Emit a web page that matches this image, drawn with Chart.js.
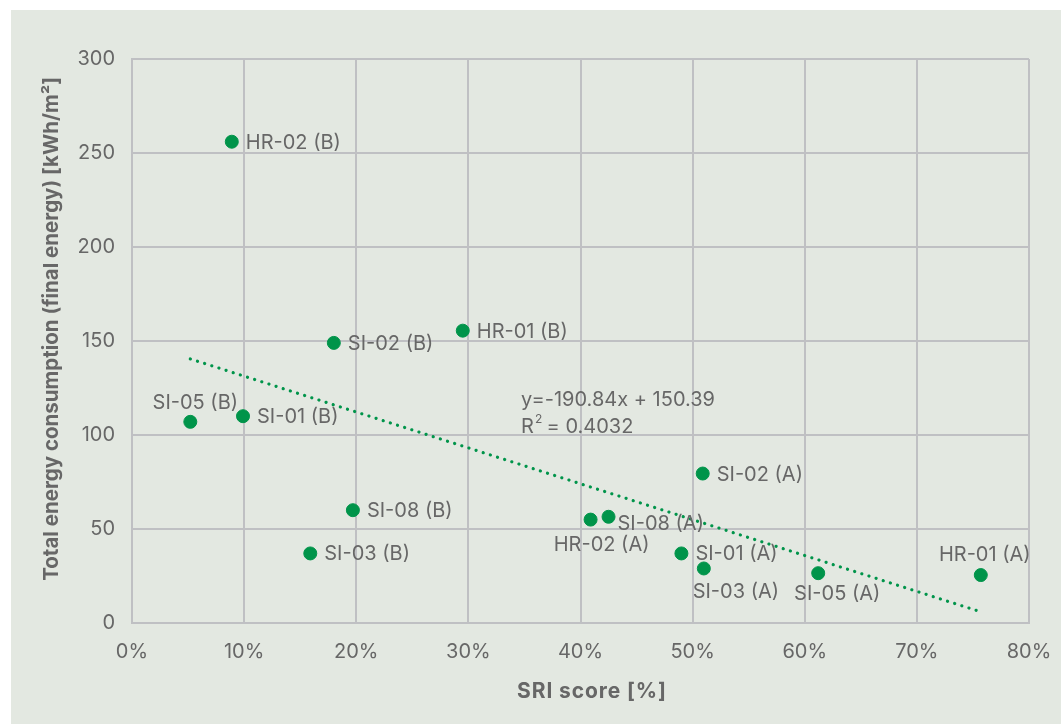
<!DOCTYPE html>
<html>
<head>
<meta charset="utf-8">
<script src="https://cdn.jsdelivr.net/npm/chart.js@4"></script>
<style>
  html, body { margin: 0; padding: 0; background: #ffffff; }
  #panel {
    position: absolute; left: 11px; top: 10px;
    width: 1050px; height: 714px;
    background: #e3e8e1;
  }
</style>
</head>
<body>
<div id="panel"><canvas id="sri-chart" width="1050" height="714"></canvas></div>
<script>
// data
var siteLabels = ["HR-02 (B)", "SI-02 (B)", "HR-01 (B)", "SI-05 (B)", "SI-01 (B)", "SI-08 (B)", "SI-03 (B)",
                  "SI-02 (A)", "HR-02 (A)", "SI-08 (A)", "SI-01 (A)", "SI-03 (A)", "SI-05 (A)", "HR-01 (A)"];
var sriScores = [8.9, 18.0, 29.5, 5.2, 9.9, 19.7, 15.9, 50.9, 40.9, 42.5, 49.0, 51.0, 61.2, 75.7];
var energyUse = [256, 149, 155.5, 107, 110, 60, 37, 79.5, 55, 56.5, 37, 29, 26.5, 25.5];
var xTicks = [0, 10, 20, 30, 40, 50, 60, 70, 80];
var yTicks = [0, 50, 100, 150, 200, 250, 300];
var xTitle = "SRI score [%]";
var yTitle = "Total energy consumption (final energy) [kWh/m²]";

// trendline as printed on the chart (x as a fraction)
var trendSlope = -190.84;
var trendIntercept = 150.39;
var trendR2 = 0.4032;

// where each point's label sits: [side, dx, dy]
var labelPlacement = {
  "SI-05 (B)": ["above", 5, -19],
  "HR-02 (A)": ["below", 11, 25],
  "SI-03 (A)": ["below", 32, 24],
  "SI-05 (A)": ["below", 19, 21],
  "HR-01 (A)": ["above", 4, -20],
  "SI-08 (A)": ["right", 9, 7]
};

var textGrey = "#676767";
var gridGrey = "#bfc0c3";
var dotGreen = "#00944a";
var fontFamily = "Inter, 'Noto Sans', sans-serif";

var points = sriScores.map(function (x, i) { return { x: x, y: energyUse[i] }; });
var xMin = Math.min.apply(null, sriScores);
var xMax = Math.max.apply(null, sriScores);
var trendPoints = [xMin, xMax].map(function (x) {
  return { x: x, y: trendSlope * x / 100 + trendIntercept };
});

var chartTexts = {
  id: "chartTexts",
  afterDatasetsDraw: function (chart) {
    var ctx = chart.ctx;
    var meta = chart.getDatasetMeta(1);
    var xs = chart.scales.x, ys = chart.scales.y;
    ctx.save();
    ctx.font = "20px " + fontFamily;
    ctx.fillStyle = textGrey;
    ctx.textBaseline = "middle";
    meta.data.forEach(function (el, i) {
      var name = siteLabels[i];
      var p = labelPlacement[name] || ["right", 14, 1];
      ctx.textAlign = p[0] === "right" ? "left" : "center";
      ctx.fillText(name, el.x + p[1], el.y + p[2]);
    });

    // trendline equation
    var ex = xs.getPixelForValue(34.7);
    ctx.textAlign = "left";
    ctx.fillText("y=" + trendSlope + "x + " + trendIntercept, ex, ys.getPixelForValue(118.6));
    var ry = ys.getPixelForValue(104.5);
    ctx.fillText("R", ex, ry);
    var rw = ctx.measureText("R").width;
    ctx.font = "12px " + fontFamily;
    ctx.fillText("2", ex + rw + 1, ry - 7);
    ctx.font = "20px " + fontFamily;
    ctx.fillText(" = " + trendR2, ex + rw + 7, ry);

    // axis titles
    ctx.textAlign = "center";
    ctx.font = "bold 21px " + fontFamily;
    ctx.letterSpacing = "0.9px";
    ctx.fillText(xTitle, 581, xs.bottom - 32);
    ctx.letterSpacing = "0px";
    ctx.font = "bold 20.5px " + fontFamily;
    ctx.translate(41, (ys.top + ys.bottom) / 2 - 12);
    ctx.rotate(-Math.PI / 2);
    ctx.fillText(yTitle, 0, 0);
    ctx.restore();
  }
};

new Chart(document.getElementById("sri-chart"), {
  type: "scatter",
  data: {
    datasets: [
      {
        type: "line",
        label: "Trend",
        data: trendPoints,
        borderColor: dotGreen,
        borderWidth: 3.2,
        borderDash: [0.1, 7.4],
        borderCapStyle: "round",
        pointRadius: 0,
        fill: false
      },
      {
        label: "Buildings",
        data: points,
        backgroundColor: dotGreen,
        borderColor: dotGreen,
        pointRadius: 6.5,
        pointHoverRadius: 6.5
      }
    ]
  },
  options: {
    responsive: false,
    animation: false,
    layout: { padding: { top: 49, right: 32, left: 0, bottom: 0 } },
    plugins: {
      legend: { display: false },
      tooltip: { enabled: false }
    },
    scales: {
      x: {
        type: "linear",
        min: 0,
        max: 80,
        afterBuildTicks: function (axis) {
          axis.ticks = xTicks.map(function (v) { return { value: v }; });
        },
        afterFit: function (axis) {
          axis.height = 101;
          axis.paddingLeft = 0;
          axis.paddingRight = 0;
        },
        ticks: {
          color: textGrey,
          font: { family: fontFamily, size: 20 },
          padding: 17,
          callback: function (v) { return v + "%"; }
        },
        grid: { color: gridGrey, lineWidth: 2, drawTicks: false },
        border: { color: gridGrey, width: 2 }
      },
      y: {
        min: 0,
        max: 300,
        afterBuildTicks: function (axis) {
          axis.ticks = yTicks.map(function (v) { return { value: v }; });
        },
        afterFit: function (axis) {
          axis.width = 121;
          axis.paddingTop = 0;
          axis.paddingBottom = 0;
        },
        ticks: {
          color: textGrey,
          font: { family: fontFamily, size: 20 },
          padding: 17
        },
        grid: { color: gridGrey, lineWidth: 2, drawTicks: false },
        border: { color: gridGrey, width: 2 }
      }
    }
  },
  plugins: [chartTexts]
});
</script>
</body>
</html>
